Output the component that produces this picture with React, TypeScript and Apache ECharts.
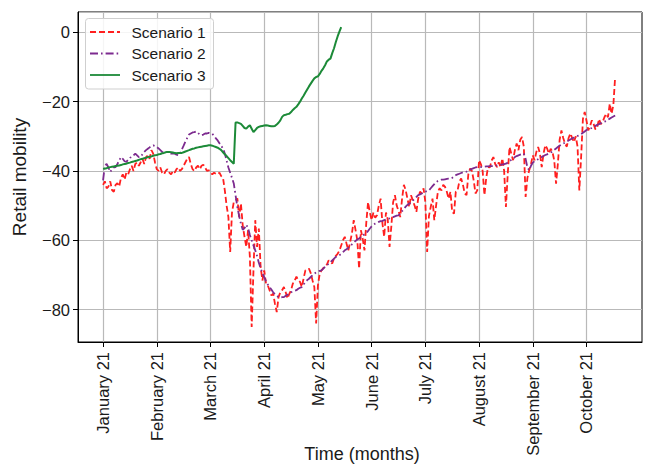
import React, { useEffect, useRef } from "react";
import * as echarts from "echarts";

// Tick labels (one every 30 days, starting at day 0)
const monthLabels = [
  "January 21", "February 21", "March 21", "April 21", "May 21",
  "June 21", "July 21", "August 21", "September 21", "October 21",
];
const tickStep = 30;
const firstDay = -14;
const lastDay = 301;

const seriesNames = ["Scenario 1", "Scenario 2", "Scenario 3"];

// Scenario 1: daily retail mobility (red, dashed)
const scenario1 = [
  -44, -43, -45, -44.5, -43, -45.5, -46, -44, -43.5, -44.5,
  -42, -41, -42.5, -40.5, -41, -39.5, -38.5, -40, -38, -37.5,
  -38.5, -37.5, -36.5, -38, -36, -35.5, -36.5, -34, -35, -37.5,
  -39.5, -40, -39, -40.5, -41, -40, -39.5, -40.5, -41, -40,
  -40.5, -39.5, -39, -40, -39.5, -38.5, -37.5, -36.5, -36, -38,
  -39.5, -40, -39, -38.5, -39.5, -38.5, -38.2, -39, -40, -39.8,
  -40.3, -41, -40.5, -40.8, -41, -40.5, -41.5, -42, -45.6, -50,
  -53.3, -63.4, -52, -49, -48.5, -47.9, -53.3, -49.4, -55.7, -59,
  -61.9, -57.1, -64.8, -85, -68.7, -54.2, -61.9, -56.6, -67.7, -71.6,
  -68.7, -72.5, -73, -74.4, -75.9, -75.4, -78.3, -80.7, -76.4, -75,
  -74.4, -73.5, -75, -76.8, -75.5, -74.4, -72.5, -71.6, -70.5, -71.5,
  -72, -73.5, -71, -68.7, -68.5, -68.2, -69.5, -71.6, -73.5, -84,
  -73, -69.6, -68.7, -68, -67.7, -67, -65.8, -66.2, -66.7, -65.2,
  -64.5, -63.9, -63, -61.5, -60, -59, -61, -62.9, -60.5, -58,
  -54.2, -57, -60, -68.2, -57.1, -59.5, -62.9, -55, -49, -52,
  -54.2, -52, -53.5, -52.8, -50, -48, -55, -59, -52, -54,
  -61.9, -56, -49, -47, -50, -51.5, -53.3, -48, -44, -45.5,
  -48, -50.4, -47, -48.5, -50, -51.8, -48, -46, -46.5, -45,
  -49, -63.4, -53, -50.4, -48, -54.2, -50, -46, -45, -45.6,
  -44, -44.6, -46, -48, -46, -51.8, -52.3, -46, -45.6, -43,
  -42.2, -44, -46.5, -47, -41, -39.3, -40, -42.7, -46.5, -45.6,
  -36.9, -38, -40, -47, -42, -38.9, -39, -37, -36, -38,
  -38.9, -37.5, -39, -36.4, -40, -50.4, -41, -33.1, -35, -36.9,
  -34, -32.1, -34, -31, -30.2, -33, -47.5, -42, -39.8, -38,
  -35.5, -36.9, -34.5, -33.1, -35, -38.9, -35, -32.6, -33.5, -35,
  -33.6, -34.5, -37, -43.7, -38, -31, -28.3, -30.5, -32.1, -33,
  -30.5, -29.2, -30.5, -31.7, -30, -33, -45.6, -36, -25, -23,
  -25.5, -28.3, -27, -25.4, -26.5, -28, -27.3, -25, -26.5, -25.9,
  -24.5, -23.5, -24.5, -20.6, -23.5, -21, -12.9,
];

// Scenario 2: smoothed mobility (purple, dash-dot)
const scenario2 = [
  -42.7, -38.4, -38, -39, -40.3, -39.5, -39, -38.9, -38, -37,
  -36, -36.5, -37.2, -37.4, -36.8, -36.2, -36, -35.5, -35, -35.5,
  -36, -36, -35.2, -34.5, -34, -33.6, -33.2, -32.8, -32.6, -32.8,
  -33.1, -33.5, -34, -34.5, -34.6, -34.5, -34.5, -34.8, -35, -35,
  -35, -35.3, -35.5, -35, -33.8, -32.7, -31.5, -30.5, -29.5, -29.2,
  -28.9, -28.8, -28.6, -29, -29.5, -29.7, -29.5, -29.2, -29.2, -29,
  -29.2, -29.3, -29.8, -30.6, -31.2, -32, -32.8, -33.5, -35, -37,
  -39, -40.5, -42, -43.6, -47, -50.4, -53, -55.2, -57, -56.5,
  -55.5, -56.5, -58.5, -60, -61.5, -62.9, -64.5, -66.5, -68, -69.5,
  -70.6, -71.8, -72.8, -73.5, -74.2, -75, -75.6, -76, -76.4, -76.5,
  -76.4, -76.4, -76, -75.7, -75.4, -75, -74.8, -74.6, -74.4, -74,
  -73.7, -73.5, -72.8, -72, -71.5, -71.1, -70.6, -70.1, -69.6, -69.3,
  -69, -68.8, -68.7, -68.2, -67.6, -67.2, -66.8, -66.3, -65.8, -65.3,
  -64.8, -64.5, -64.3, -63.9, -63.4, -62.9, -62.6, -62.1, -61.7, -61.2,
  -60.7, -60.2, -59.8, -59.5, -59, -58.6, -58.3, -58, -57.3, -56.6,
  -56, -55.5, -55.2, -55, -54.7, -54.5, -54.4, -54.2, -54, -53.8,
  -53.7, -53.5, -53.3, -53.1, -52.9, -52.8, -52.3, -51.6, -51, -50.3,
  -49.8, -49.4, -49.1, -48.6, -48, -47.5, -47, -46.8, -46.5, -46.2,
  -46, -45.8, -45.6, -45, -44.4, -43.8, -43.2, -42.9, -42.7, -42.5,
  -42.5, -42.4, -42.3, -42.2, -42.2, -42, -41.6, -41.2, -41, -40.8,
  -40.6, -40.4, -40.3, -40.2, -39.8, -39.6, -39.4, -39.2, -39, -38.9,
  -38.9, -38.9, -38.8, -38.8, -38.7, -38.7, -38.6, -38.6, -38.6, -38.5,
  -38.4, -38.3, -38.2, -38.2, -38, -37.9, -37.6, -37.2, -36.8, -36.4,
  -36, -35.7, -35.5, -35.3, -35.1, -35, -36.5, -39, -39.8, -38.5,
  -37.6, -37.2, -36.9, -36.6, -36.3, -36, -35.7, -35.4, -35.2, -35,
  -34.7, -34.4, -33.9, -33.5, -33.1, -32.7, -32.4, -32.1, -31.8, -31.5,
  -31.2, -30.9, -30.6, -30.4, -30.2, -29.9, -29.7, -29.4, -29, -28.6,
  -28.2, -27.9, -27.8, -27.6, -27.3, -27, -26.7, -26.5, -26.2, -26,
  -25.8, -25.6, -25.2, -24.9, -24.6, -24.3, -24,
];

// Scenario 3: projection until mid-May (green, solid)
const scenario3 = [
  -39.4, -39.3, -39.2, -39, -38.9, -38.8, -38.7, -38.6, -38.5, -38.4,
  -38.3, -38.1, -38, -37.9, -37.7, -37.6, -37.4, -37.3, -37.1, -37,
  -36.8, -36.6, -36.5, -36.3, -36.2, -36, -35.9, -35.8, -35.6, -35.5,
  -35.4, -35.2, -35.1, -34.9, -34.8, -34.6, -34.5, -34.5, -34.6, -34.7,
  -34.8, -34.9, -34.8, -34.8, -34.8, -34.6, -34.4, -34.2, -34, -33.8,
  -33.6, -33.5, -33.3, -33.2, -33.1, -33, -32.9, -32.8, -32.7, -32.6,
  -32.6, -32.7, -32.9, -33.1, -33.3, -33.6, -34, -34.6, -35.2, -35.7,
  -36.3, -36.9, -37.4, -37.9, -26, -26, -26.2, -26.4, -27, -27.6,
  -27.8, -27.2, -26.8, -27.8, -28.8, -28.2, -27.6, -27.3, -27.1, -27,
  -26.9, -26.8, -26.9, -27, -27.1, -27.1, -27, -26.6, -26.1, -25.4,
  -24.4, -23.9, -23.8, -23.6, -23.5, -23, -22.4, -21.9, -21.5, -20.8,
  -20, -19.1, -18.3, -17.4, -16.5, -15.6, -14.8, -14, -13.3, -12.9,
  -12.7, -12, -11.1, -10.4, -9.5, -8.4, -7.9, -7.6, -6, -4.6,
  -2.8, -1.2, 0.2, 1.5,
];

const xAxisTitle = "Time (months)";
const yAxisTitle = "Retail mobility";

const FONT = "Liberation Sans";
const TEXT = "#1a1a1a";
const RED = "#ff1f1f";
const PURPLE = "#7d2b8f";
const GREEN = "#1c8a38";
const GRID = "#b9b9b9";
const DASH = [6, 3];
const DASHDOT = [8, 3, 1.6, 3];

export default function App() {
  const ref = useRef<HTMLDivElement>(null);

  useEffect(() => {
    if (!ref.current) return;
    const chart = echarts.init(ref.current, undefined, { renderer: "svg" });

    const days: string[] = [];
    for (let d = firstDay; d <= lastDay; d++) days.push(String(d));
    const pad = (arr: number[]) =>
      days.map((s) => {
        const d = Number(s);
        return d >= 0 && d < arr.length ? arr[d] : null;
      });
    const isTick = (value: string) => {
      const d = Number(value);
      return d >= 0 && d % tickStep === 0 && d / tickStep < monthLabels.length;
    };
    const tickFn = (_i: number, value: string) => isTick(value);

    const legendRows = [
      { name: seriesNames[0], color: RED, dash: DASH, y: 32 },
      { name: seriesNames[1], color: PURPLE, dash: DASHDOT, y: 53.5 },
      { name: seriesNames[2], color: GREEN, dash: null as number[] | null, y: 75 },
    ];

    const graphic: any[] = [
      {
        type: "rect",
        z: 100,
        shape: { x: 85.5, y: 18.5, width: 128, height: 70.5, r: 3 },
        style: { fill: "rgba(255,255,255,0.85)", stroke: "#cfcfcf", lineWidth: 1 },
      },
      {
        type: "text",
        z: 101,
        x: 362,
        y: 445,
        style: {
          text: xAxisTitle,
          fontSize: 18,
          fontFamily: FONT,
          fill: TEXT,
          align: "center",
          textAlign: "center",
          verticalAlign: "top",
          textVerticalAlign: "top",
        },
      },
    ];
    legendRows.forEach((r) => {
      graphic.push({
        type: "line",
        z: 101,
        shape: { x1: 90, y1: r.y, x2: 120, y2: r.y },
        style: { stroke: r.color, lineWidth: 1.8, lineDash: r.dash || undefined },
      });
      graphic.push({
        type: "text",
        z: 101,
        x: 131.5,
        y: r.y,
        style: {
          text: r.name,
          fontSize: 15.5,
          fontFamily: FONT,
          fill: TEXT,
          verticalAlign: "middle",
          textVerticalAlign: "middle",
        },
      });
    });

    chart.setOption({
      animation: false,
      backgroundColor: "#ffffff",
      grid: {
        left: 78,
        right: 5,
        top: 12,
        bottom: 124,
        show: true,
        borderColor: "#000",
        borderWidth: 1,
        backgroundColor: "#fff",
        outerBoundsMode: "none",
        containLabel: false,
      },
      xAxis: {
        type: "category",
        data: days,
        boundaryGap: false,
        axisLine: { show: true, onZero: false, lineStyle: { color: "#000", width: 1 } },
        axisTick: { show: true, interval: tickFn, length: 5, lineStyle: { color: "#000" } },
        axisLabel: {
          interval: tickFn,
          rotate: 90,
          margin: 10,
          fontFamily: FONT,
          fontSize: 16.5,
          color: TEXT,
          formatter: (v: string) => (isTick(v) ? monthLabels[Number(v) / tickStep] : ""),
        },
        splitLine: { show: true, interval: tickFn, lineStyle: { color: GRID, width: 1.2 } },
      },
      yAxis: {
        type: "value",
        min: -89.35,
        max: 5.86,
        name: yAxisTitle,
        nameLocation: "middle",
        nameRotate: 90,
        nameGap: 49,
        nameMoveOverlap: false,
        nameTextStyle: { fontFamily: FONT, fontSize: 19, color: TEXT },
        axisLine: { show: true, onZero: false, lineStyle: { color: "#000", width: 1 } },
        axisTick: { show: true, length: 5, lineStyle: { color: "#000" } },
        axisLabel: {
          margin: 8,
          fontFamily: FONT,
          fontSize: 16.5,
          color: TEXT,
          showMinLabel: false,
          showMaxLabel: false,
          formatter: (v: number) => {
            if (Math.abs(v % 20) > 1e-6) return "";
            return v < 0 ? "\u2212" + Math.abs(v) : String(v);
          },
        },
        splitLine: { show: true, lineStyle: { color: GRID, width: 1.2 } },
      },
      series: [
        {
          name: seriesNames[0],
          type: "line",
          data: pad(scenario1),
          symbol: "none",
          silent: true,
          lineStyle: { color: RED, width: 1.8, type: DASH },
          z: 2,
        },
        {
          name: seriesNames[1],
          type: "line",
          data: pad(scenario2),
          symbol: "none",
          silent: true,
          lineStyle: { color: PURPLE, width: 1.8, type: DASHDOT },
          z: 3,
        },
        {
          name: seriesNames[2],
          type: "line",
          data: pad(scenario3),
          symbol: "none",
          silent: true,
          lineStyle: { color: GREEN, width: 2, type: "solid" },
          z: 4,
        },
      ],
      graphic,
    });

    return () => chart.dispose();
  }, []);

  return (
    <div
      ref={ref}
      style={{ position: "absolute", left: 0, top: 0, width: 647, height: 466 }}
    />
  );
}
